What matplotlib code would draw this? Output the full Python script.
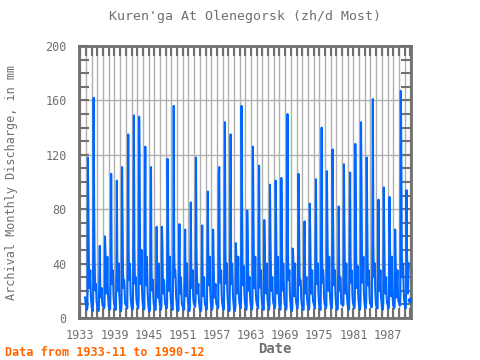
#!/usr/bin/env python3
"""Monthly discharge record, Kuren'ga at Olenegorsk, 1933-11 to 1990-12."""
import numpy as np
import matplotlib
matplotlib.use('Agg')
import matplotlib.pyplot as plt
from matplotlib.ticker import MultipleLocator

nan = np.nan
# first two months of the record (1933)
start_1933 = [15, 12]  # Nov, Dec

# one value per year, 1934..1990, for each calendar month (mm)
jan = [9, 8, 7, 10, 8, 9, 7, 11, 8, 10,
       9, 7, 8, 9, 10, 8, 7, 9, 8, 11,
       7, 9, 8, 10, 9, 8, 7, 10, 9, 8,
       11, 8, 9, 10, 8, 9, 7, 10, 8, 9,
       11, 8, 9, 10, 8, 12, 9, 10, 8, 9,
       11, 9, 8, 10, 9, 12, 10]
feb = [7, 6, 6, 8, 7, 7, 6, 9, 7, 8,
       7, 6, 7, 7, 8, 7, 6, 7, 6, 9,
       6, 7, 7, 8, 7, 6, 6, 8, 7, 7,
       9, 7, 7, 8, 7, 7, 6, 8, 7, 7,
       9, 7, 8, 8, 7, 10, 7, 8, 7, 8,
       9, 8, 7, 8, 8, 10, 8]
mar = [6, 5, 5, 7, 6, 6, 5, 8, 6, 7,
       6, 5, 6, 6, 7, 6, 5, 6, 5, 8,
       5, 6, 6, 7, 6, 5, 5, 7, 6, 6,
       8, 6, 6, 7, 6, 6, 5, 7, 6, 6,
       8, 6, 7, 7, 6, 9, 6, 7, 6, 7,
       8, 7, 6, 7, 7, 9, 7]
apr = [8, 12, 6, 9, 7, 6, 10, 7, 8, 14,
       7, 6, 6, 9, 11, 6, 6, 6, 7, 13,
       6, 7, 9, 8, 7, 6, 8, 12, 9, 10,
       7, 6, 10, 9, 11, 8, 7, 12, 6, 8,
       7, 6, 9, 11, 7, 10, 8, 12, 13, 12,
       8, 7, 11, 10, 9, 15, 12]
may = [118, 162, 30, 60, 40, 35, 111, 45, 60, 148,
       70, 50, 30, 67, 117, 45, 35, 30, 40, 118,
       30, 55, 65, 106, 60, 55, 55, 156, 79, 126,
       50, 72, 98, 101, 103, 85, 51, 106, 40, 84,
       55, 70, 108, 124, 40, 113, 60, 128, 144, 118,
       60, 45, 96, 89, 65, 167, 94]
jun = [76, 91, 53, 48, 106, 101, 73, 135, 149, 114,
       126, 111, 67, 55, 80, 156, 69, 65, 85, 50,
       68, 93, 45, 111, 144, 135, 45, 92, 60, 80,
       112, 50, 60, 70, 62, 150, 45, 88, 71, 60,
       102, 140, 70, 75, 82, 65, 107, 85, 100, 80,
       161, 87, 60, 55, 45, 124, 50]
jul = [40, 45, 25, 30, 42, 38, 35, 48, 50, 45,
       40, 38, 25, 30, 35, 50, 30, 28, 35, 30,
       28, 40, 25, 45, 50, 42, 30, 40, 35, 38,
       45, 30, 35, 30, 32, 48, 28, 40, 32, 30,
       42, 45, 35, 40, 35, 32, 45, 38, 45, 40,
       55, 35, 30, 28, 25, 50, 30]
aug = [22, 25, 15, 18, 25, 20, 22, 28, 30, 25,
       24, 22, 15, 18, 20, 30, 18, 16, 22, 18,
       16, 24, 15, 26, 28, 25, 18, 24, 20, 22,
       26, 18, 20, 18, 20, 28, 16, 24, 18, 18,
       25, 26, 20, 24, 20, 18, 26, 22, 26, 24,
       32, 20, 18, 16, 15, 30, 18]
sep = [30, 20, 18, 25, 35, 22, 28, 40, 25, 30,
       45, 20, 22, 28, 25, 35, 30, 20, 25, 22,
       20, 35, 18, 30, 25, 40, 22, 35, 28, 30,
       22, 30, 25, 35, 40, 30, 20, 28, 25, 22,
       30, 35, 28, 25, 30, 22, 35, 30, 28, 35,
       30, 25, 22, 30, 28, 40, 32]
oct = [35, 25, 22, 45, 30, 40, 25, 35, 30, 50,
       35, 28, 40, 25, 45, 30, 22, 40, 35, 25,
       30, 45, 25, 35, 40, 30, 45, 38, 30, 45,
       35, 40, 30, 45, 28, 35, 40, 25, 30, 35,
       40, 30, 45, 35, 28, 40, 30, 38, 45, 30,
       40, 35, 30, 45, 35, 38, 40]
nov = [18, 14, 12, 20, 16, 18, 14, 18, 16, 22,
       18, 15, 18, 14, 20, 16, 12, 18, 16, 14,
       15, 20, 14, 18, 20, 16, 20, 18, 16, 20,
       18, 20, 16, 22, 15, 18, 18, 14, 16, 18,
       20, 16, 22, 18, 15, 20, 16, 18, 20, 16,
       20, 18, 16, 20, 18, 20, nan]
dec = [12, 10, 9, 13, 11, 12, 10, 12, 11, 14,
       12, 10, 12, 10, 13, 11, 9, 12, 11, 10,
       10, 13, 10, 12, 13, 11, 13, 12, 11, 13,
       12, 13, 11, 14, 10, 12, 12, 10, 11, 12,
       13, 11, 14, 12, 10, 13, 11, 12, 13, 11,
       13, 12, 11, 13, 12, 13, 13]

BLUE = '#0066ff'
GREY = '#707070'


def main():
    months = np.array([jan, feb, mar, apr, may, jun, jul, aug, sep, oct, nov, dec], float)
    years = np.arange(1934, 1934 + months.shape[1])
    vals = np.concatenate([start_1933, months.T.ravel()])
    t = np.concatenate([[1933 + 10 / 12, 1933 + 11 / 12],
                        (years[:, None] + np.arange(12)[None, :] / 12).ravel()])

    # points with no neighbour on either side get a dot so they stay visible
    padded = np.concatenate([[nan], vals, [nan]])
    lone = ~np.isnan(vals) & np.isnan(padded[:-2]) & np.isnan(padded[2:])

    plt.rcParams['font.family'] = 'DejaVu Sans Mono'
    fig = plt.figure(figsize=(4.8, 3.6), dpi=100)
    ax = fig.add_axes([0.165, 0.117, 0.691, 0.755])

    ax.plot(t, vals, color=BLUE, lw=1.5, zorder=3)
    ax.plot(t[lone], vals[lone], 'o', color=BLUE, ms=3, zorder=3)

    ax.set_xlim(1932.8, 1991.1)
    ax.set_ylim(0, 200)
    ax.set_xticks(np.arange(1933, 1991, 6))
    ax.xaxis.set_minor_locator(MultipleLocator(1))
    ax.yaxis.set_major_locator(MultipleLocator(40))
    ax.yaxis.set_minor_locator(MultipleLocator(10))
    ax.grid(which='major', axis='y', color='#b0b0b0', lw=1)
    ax.grid(which='both', axis='x', color='#b0b0b0', lw=1)
    ax.set_axisbelow(True)

    ax.tick_params(which='both', direction='in', top=True, right=True, length=7,
                   color=GREY, width=1.5, labelcolor=GREY, labelsize=8.5)
    ax.tick_params(axis='x', which='major', pad=8)
    ax.tick_params(axis='y', which='major', pad=9)
    for s in ax.spines.values():
        s.set_color(GREY)
        s.set_linewidth(2)

    ax.set_title("Kuren'ga At Olenegorsk (zh/d Most)", color=GREY, fontsize=9.5, pad=19)
    ax.set_xlabel('Date', color=GREY, fontsize=10, fontweight='bold')
    ax.xaxis.set_label_coords(0.59, -0.088)
    ax.set_ylabel('Archival Monthly Discharge, in mm', color=GREY, fontsize=8.5)
    ax.yaxis.set_label_coords(-0.185, 0.5)
    fig.text(0.01, 0.012, 'Data from 1933-11 to 1990-12', color='#ff6600',
             fontsize=8.5, fontweight='bold')

    fig.savefig('out.png', dpi=100)
    plt.close(fig)


if __name__ == '__main__':
    main()
